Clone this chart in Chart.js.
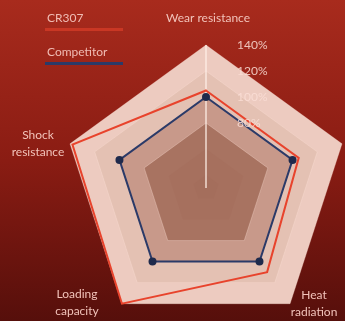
<!DOCTYPE html>
<html>
<head>
<meta charset="utf-8">
<script src="https://cdn.jsdelivr.net/npm/chart.js@4.4.1/dist/chart.umd.min.js"></script>
<style>
html,body{margin:0;padding:0;background:#8a1c13;overflow:hidden;}
#wrap{width:345px;height:321px;position:relative;}
</style>
</head>
<body>
<div id="wrap"><canvas id="c"></canvas></div>
<script>
// ---- data ----
const categories = [['Wear resistance'], [''], ['Heat', 'radiation'], ['Loading', 'capacity'], ['Shock', 'resistance']];
const seriesNames = ['CR307', 'Competitor'];
const cr307Values = [105, 105, 110, 140, 138];
const competitorValues = [100, 100, 100, 100, 100];
const tickValues = [140, 120, 100, 80];
const tickLabels = ['140%', '120%', '100%', '80%'];
const scaleMin = 30;
const scaleMax = 140;

// ---- styling / layout ----
const FONT = '12px Lato, "Open Sans", sans-serif';
const seriesColors = ['#e8432c', '#2b3a68'];
const legendBarColors = ['rgba(214,60,40,0.75)', '#2b3a68'];
const bandColors = {140: '#edcbc0', 120: '#e4c1b3', 100: '#c8998a', 80: '#a87361', 60: '#a6705e', 40: '#a46e5c'};
const labelPlacement = [
  {dx: 2, dy: -27},
  {dx: 30, dy: 0},
  {dx: 24, dy: 0},
  {dx: -45, dy: -1},
  {dx: -32, dy: 0}
];

function polygon(ctx, s, d, n) {
  ctx.beginPath();
  for (let i = 0; i < n; i++) {
    const p = s.getPointPosition(i, d);
    if (i) ctx.lineTo(p.x, p.y); else ctx.moveTo(p.x, p.y);
  }
  ctx.closePath();
}

const decor = {
  id: 'decor',
  beforeDraw(chart) {
    const {ctx, width, height} = chart;
    const s = chart.scales.r;
    const n = chart.data.labels.length;
    ctx.save();
    const g = ctx.createLinearGradient(0, 0, 0, height);
    g.addColorStop(0, '#a82b1d');
    g.addColorStop(0.5, '#8a1c13');
    g.addColorStop(1, '#560f0b');
    ctx.fillStyle = g;
    ctx.fillRect(0, 0, width, height);
    const levels = s.ticks.map(t => t.value).filter(v => v > scaleMin).sort((a, b) => b - a);
    levels.forEach(v => {
      polygon(ctx, s, s.getDistanceFromCenterForValue(v), n);
      ctx.fillStyle = bandColors[v] || '#a46e5c';
      ctx.fill();
    });
    ctx.restore();
  },
  afterDraw(chart) {
    const {ctx} = chart;
    const s = chart.scales.r;
    ctx.save();
    ctx.font = FONT;
    // tick labels
    ctx.fillStyle = 'rgba(250,222,214,0.85)';
    ctx.textAlign = 'left';
    ctx.textBaseline = 'middle';
    tickValues.forEach((v, k) => {
      const p = s.getPointPosition(0, s.getDistanceFromCenterForValue(v));
      ctx.fillText(tickLabels[k], p.x + 31, p.y);
    });
    // point labels
    ctx.fillStyle = '#f2c3ba';
    ctx.textAlign = 'center';
    const lh = 17;
    chart.data.labels.forEach((lines, i) => {
      const p = s.getPointPosition(i, s.getDistanceFromCenterForValue(scaleMax));
      const pl = labelPlacement[i];
      const cx = p.x + pl.dx, cy = p.y + pl.dy;
      const y0 = cy - (lines.length - 1) * lh / 2;
      lines.forEach((t, j) => ctx.fillText(t, cx, y0 + j * lh));
    });
    // legend
    ctx.textAlign = 'left';
    chart.data.datasets.forEach((ds, k) => {
      const y = 18 + k * 34;
      ctx.fillStyle = '#f0bcb4';
      ctx.fillText(ds.label, 47, y);
      ctx.fillStyle = legendBarColors[k];
      ctx.fillRect(45, y + 10, 78, 3);
    });
    ctx.restore();
  }
};

new Chart(document.getElementById('c'), {
  type: 'radar',
  data: {
    labels: categories,
    datasets: [
      {
        label: seriesNames[0], data: cr307Values,
        borderColor: seriesColors[0], backgroundColor: 'rgba(0,0,0,0)', fill: false,
        borderWidth: 2, pointRadius: 0
      },
      {
        label: seriesNames[1], data: competitorValues,
        borderColor: seriesColors[1], backgroundColor: 'rgba(0,0,0,0)', fill: false,
        borderWidth: 2, pointRadius: 3,
        pointBackgroundColor: '#1f2a4c', pointBorderColor: '#1f2a4c'
      }
    ]
  },
  options: {
    responsive: true,
    maintainAspectRatio: false,
    animation: false,
    layout: {padding: 0},
    elements: {line: {tension: 0}},
    plugins: {legend: {display: false}, tooltip: {enabled: false}},
    scales: {
      r: {
        min: scaleMin,
        max: scaleMax,
        ticks: {display: false, stepSize: 20},
        pointLabels: {display: false},
        grid: {
          color: c => (c.tick && c.tick.value >= 80) ? 'rgba(255,228,218,0.3)' : 'rgba(0,0,0,0)',
          lineWidth: 1
        },
        angleLines: {
          color: c => c.index === 0 ? 'rgba(255,238,230,0.85)' : 'rgba(0,0,0,0)',
          lineWidth: 1.5
        },
        afterFit: sc => { sc.xCenter = 206; sc.yCenter = 188; sc.drawingArea = 143; }
      }
    }
  },
  plugins: [decor]
});
</script>
</body>
</html>
